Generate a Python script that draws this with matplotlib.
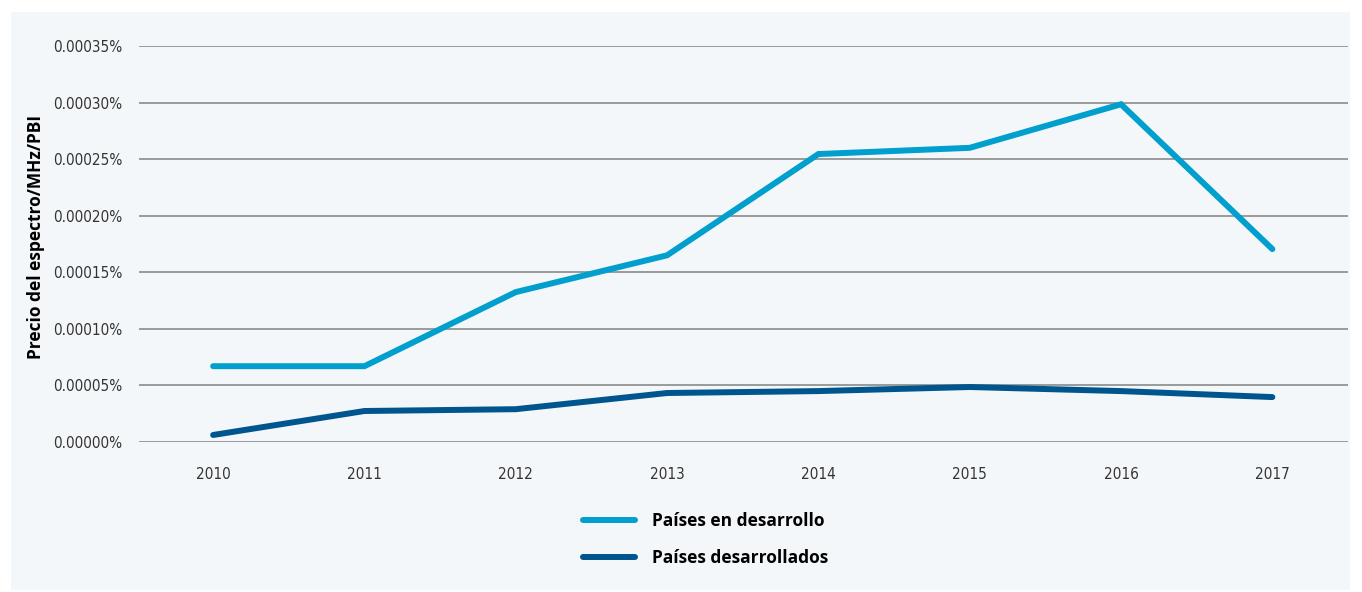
import matplotlib.pyplot as plt
from matplotlib.patches import Rectangle
from matplotlib.ticker import FuncFormatter

years = ['2010', '2011', '2012', '2013', '2014', '2015', '2016', '2017']
en_desarrollo = [6.7e-5, 6.7e-5, 1.325e-4, 1.65e-4, 2.545e-4, 2.6e-4, 2.985e-4, 1.705e-4]
desarrollados = [6.2e-6, 2.74e-5, 2.9e-5, 4.33e-5, 4.5e-5, 4.86e-5, 4.5e-5, 3.97e-5]
yticks = [0, 5e-5, 1e-4, 1.5e-4, 2e-4, 2.5e-4, 3e-4, 3.5e-4]

light = '#009fce'
dark = '#00558f'
bg = '#f4f7f9'
bold = ['Open Sans', 'DejaVu Sans']

fig = plt.figure(figsize=(13.62, 5.92), dpi=100)
fig.patch.set_facecolor('white')
fig.add_artist(Rectangle((11/1362, 2/592), 1339/1362, 578/592,
                         transform=fig.transFigure, facecolor=bg, edgecolor='none', zorder=0))

ax = fig.add_axes([139/1362, 1 - 442/592, 1209/1362, 396/592])
ax.set_facecolor('none')

x = list(range(len(years)))
ax.plot(x, en_desarrollo, color=light, lw=4.3, solid_capstyle='round',
        solid_joinstyle='miter', label='Países en desarrollo', zorder=3)
ax.plot(x, desarrollados, color=dark, lw=4.3, solid_capstyle='round',
        solid_joinstyle='miter', label='Países desarrollados', zorder=3)

ax.set_xlim(-0.49, 7.5)
ax.set_ylim(0, 3.5e-4)
ax.set_yticks(yticks)
ax.yaxis.set_major_formatter(FuncFormatter(lambda v, p: f'{v:.5f}%'))
ax.set_xticks(x)
ax.set_xticklabels(years)
ax.grid(axis='y', color='#8a8a8a', lw=1.2)
ax.set_axisbelow(True)
for s in ax.spines.values():
    s.set_visible(False)
ax.tick_params(length=0, labelsize=11, colors='#333333')
ax.tick_params(axis='y', pad=12)
ax.tick_params(axis='x', pad=18)
for lab in ax.get_xticklabels() + ax.get_yticklabels():
    lab.set_family('DejaVu Sans')
    lab.set_stretch('condensed')
    lab.set_weight('light')

ax.set_ylabel('Precio del espectro/MHz/PBI', fontsize=12.5, fontweight='bold',
              family=bold, color='black')
ax.yaxis.set_label_coords(-0.078, 0.518)

fig.legend(loc='center', bbox_to_anchor=(0.518, 0.088), frameon=False,
           handlelength=3.0, handletextpad=1.0, labelspacing=1.1,
           prop={'family': bold, 'weight': 'bold', 'size': 12.5})

fig.savefig('out.png', dpi=100)
